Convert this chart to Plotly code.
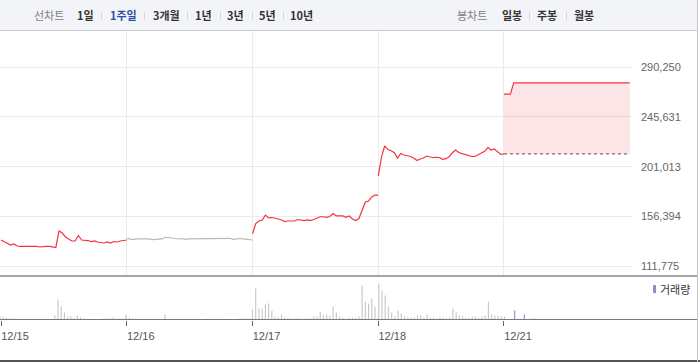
import plotly.graph_objects as go

# ---------------- data ----------------
dates = ["12/15", "12/16", "12/17", "12/18", "12/21"]
minutes = list(range(0, 391, 10))  # 10-minute grid, 09:00 - 15:30

price_1215 = [135500, 134100, 132800, 131000, 131900, 130100, 129700, 129700, 129700, 129700,
              130100, 129700, 129200, 129700, 129700, 129700, 129200, 128800, 143500, 141700,
              138200, 136400, 134600, 134600, 139500, 135500, 135500, 135000, 134100, 134600,
              133700, 133200, 132800, 133700, 132800, 134100, 133700, 134600, 135000, 135500]
price_1216 = [137000, 136400, 135900, 136400, 136400, 136800, 136800, 136400, 135900, 135900,
              135750, 136400, 137900, 137300, 137300, 136800, 136400, 136800, 136000, 136400,
              136400, 136400, 136400, 136400, 136800, 136400, 136400, 136400, 136400, 136400,
              136400, 136400, 137000, 136000, 136400, 136800, 136400, 135900, 135500, 135500]
price_1217 = [140900, 150200, 152500, 153400, 157800, 155200, 155600, 155200, 154300, 153400,
              152000, 152500, 152500, 152500, 153800, 153400, 152900, 153400, 152900, 153800,
              155200, 156300, 156300, 155800, 156500, 159200, 157000, 157000, 157000, 155800,
              157000, 154300, 152900, 154700, 161400, 169500, 170400, 174000, 175700, 175700]
price_1218 = [192700, 209700, 219600, 216400, 215400, 213600, 208800, 212900, 211500, 211100,
              210200, 208800, 206600, 207900, 208800, 210600, 209700, 209100, 209500, 209300,
              207700, 208200, 210000, 213600, 216000, 213800, 212700, 212000, 211300, 210200,
              210200, 211500, 213100, 214800, 218200, 216000, 216900, 214200, 212000, 212500]
price_1221 = [266000, 266000, 266000, 276000, 276000, 276000, 276000, 276000, 276000, 276000,
              276000, 276000, 276000, 276000, 276000, 276000, 276000, 276000, 276000, 276000,
              276000, 276000, 276000, 276000, 276000, 276000, 276000, 276000, 276000, 276000,
              276000, 276000, 276000, 276000, 276000, 276000, 276000, 276000, 276000, 276000]
prev_close = 212500

vol_1215 = [3000, 3000, 2000, 1000, 1000, 1000, 500, 300, 300, 300,
            1000, 300, 300, 300, 300, 300, 300, 4000, 20000, 13000,
            7000, 3000, 3000, 2000, 4000, 2000, 1000, 300, 1000, 300,
            300, 300, 1000, 1000, 1000, 2000, 1000, 1000, 1000, 2000]
vol_1216 = [5000, 2000, 1000, 1000, 300, 300, 300, 300, 300, 300,
            300, 300, 5000, 300, 300, 300, 300, 300, 1000, 300,
            300, 300, 300, 300, 300, 1000, 300, 300, 300, 300,
            300, 1000, 300, 300, 300, 1000, 1000, 1000, 1000, 1000]
vol_1217 = [10000, 31000, 11000, 11000, 15000, 16000, 9000, 3000, 2000, 5000,
            2000, 2000, 1000, 1000, 2000, 1000, 1000, 1000, 1000, 3000,
            3000, 8000, 4000, 5000, 4000, 13000, 7000, 3000, 2000, 1000,
            2000, 2000, 2000, 3000, 34000, 18000, 16000, 21000, 13000, 2000]
vol_1218 = [36000, 29000, 24000, 13000, 7000, 3000, 9000, 6000, 3000, 2000,
            2000, 2000, 4000, 4000, 2000, 5000, 2000, 2000, 1000, 2000,
            2000, 1000, 2000, 11000, 8000, 4000, 3000, 2000, 2000, 3000,
            3000, 2000, 3000, 4000, 18000, 5000, 4000, 4000, 3000, 3000]
vol_1221 = [0, 0, 0, 9000, 0, 0, 5000, 0, 0, 1000]

y_ticks = [111775, 156394, 201013, 245631, 290250]

left_menu = ["선차트", "1일", "1주일", "3개월", "1년", "3년", "5년", "10년"]
right_menu = ["봉차트", "일봉", "주봉", "월봉"]
legend_label = "거래량"

# ---------------- helpers ----------------
W, H = 700, 362


def px(x):
    return x / W


def py(y):
    return 1 - y / H


RED = "#f5333f"
GRAY_LINE = "#b8b8b8"
VOL_GRAY = "#c4c7cb"
VOL_PURPLE = "#9a88c8"
KFONT = "Noto Sans CJK KR, Noto Sans, sans-serif"
NFONT = "Liberation Sans, Arial, sans-serif"

fig = go.Figure()

# price lines
day_series = [price_1215, price_1216, price_1217, price_1218]
day_colors = [RED, GRAY_LINE, RED, RED]
for d, (vals, col) in enumerate(zip(day_series, day_colors)):
    fig.add_trace(go.Scatter(
        x=[d + m / 390 for m in minutes[:len(vals)]], y=vals, mode="lines",
        line=dict(color=col, width=1.2), xaxis="x", yaxis="y", hoverinfo="skip"))

# previous close (dotted) and today's line with fill
fig.add_trace(go.Scatter(
    x=[4, 5], y=[prev_close, prev_close], mode="lines",
    line=dict(color="#555555", width=1, dash="dot"), xaxis="x", yaxis="y", hoverinfo="skip"))
fig.add_trace(go.Scatter(
    x=[4 + m / 390 for m in minutes[:len(price_1221)]], y=price_1221, mode="lines",
    line=dict(color=RED, width=1.2), fill="tonexty", fillcolor="rgba(240,70,85,0.14)",
    xaxis="x", yaxis="y", hoverinfo="skip"))

# volume bars
vol_series = [vol_1215, vol_1216, vol_1217, vol_1218, vol_1221]
vol_colors = [VOL_GRAY, VOL_GRAY, VOL_GRAY, VOL_GRAY, VOL_PURPLE]
for d, (vals, col) in enumerate(zip(vol_series, vol_colors)):
    fig.add_trace(go.Bar(
        x=[d + m / 390 for m in minutes[:len(vals)]], y=vals, width=0.009,
        marker=dict(color=col, line=dict(width=0)), xaxis="x2", yaxis="y2", hoverinfo="skip"))

x_range = [-0.008, 5.018]
plot_right = 632

fig.update_layout(
    width=W, height=H, margin=dict(l=0, r=0, t=0, b=0),
    paper_bgcolor="white", plot_bgcolor="white", showlegend=False, hovermode=False,
    xaxis=dict(domain=[0, plot_right / W], range=x_range, tickvals=[1, 2, 3, 4],
               showticklabels=False, showgrid=True, gridcolor="#ebebeb", gridwidth=1,
               zeroline=False, showline=False, ticks=""),
    yaxis=dict(domain=[py(276), py(31)], range=[103276, 322453], side="right",
               tickvals=y_ticks, tickformat=",", showgrid=True, gridcolor="#ebebeb",
               gridwidth=1, zeroline=False, showline=False, ticks="",
               tickfont=dict(family=NFONT, size=11, color="#666666"), ticklabelstandoff=8),
    xaxis2=dict(domain=[0, plot_right / W], range=x_range, anchor="y2",
                tickvals=[0, 1, 2, 3, 4], ticktext=dates, ticks="outside", ticklen=5,
                tickcolor="#666666", tickwidth=1, showgrid=False, zeroline=False,
                showline=False, tickfont=dict(family=NFONT, size=11, color="#555555"),
                ticklabelshift=14, ticklabelstandoff=1),
    yaxis2=dict(domain=[py(319.5), py(276)], range=[0, 43500], showticklabels=False,
                showgrid=False, zeroline=False, ticks=""),
)

shapes = []
# top toolbar
shapes.append(dict(type="rect", xref="paper", yref="paper", x0=px(0), x1=px(697), y0=py(30), y1=py(0),
                   fillcolor="#f3f4f8", line=dict(width=0), layer="below"))
shapes.append(dict(type="line", xref="paper", yref="paper", x0=px(0), x1=px(697), y0=py(30.5), y1=py(30.5),
                   line=dict(color="#c8c9cd", width=1)))
# panel separators
shapes.append(dict(type="line", xref="paper", yref="paper", x0=px(0), x1=px(697), y0=py(276), y1=py(276),
                   line=dict(color="#868a90", width=1.3)))
shapes.append(dict(type="line", xref="paper", yref="paper", x0=px(0), x1=px(697), y0=py(319.5), y1=py(319.5),
                   line=dict(color="#7a7a7a", width=1)))
shapes.append(dict(type="line", xref="paper", yref="paper", x0=px(0), x1=px(700), y0=py(361), y1=py(361),
                   line=dict(color="#555555", width=2)))
# right border
shapes.append(dict(type="line", xref="paper", yref="paper", x0=px(697.5), x1=px(697.5), y0=py(0), y1=py(362),
                   line=dict(color="#c8c8c8", width=1)))
# toolbar separators
for sx in [101, 144, 187, 220, 252, 283, 529, 566]:
    shapes.append(dict(type="line", xref="paper", yref="paper", x0=px(sx + 0.5), x1=px(sx + 0.5),
                       y0=py(11.5), y1=py(20), line=dict(color="#d8d8dc", width=1)))
# legend marker
shapes.append(dict(type="rect", xref="paper", yref="paper", x0=px(653), x1=px(656), y0=py(293), y1=py(285),
                   fillcolor=VOL_PURPLE, line=dict(width=0)))
fig.update_layout(shapes=shapes)

annotations = []
left_x = [48.5, 85.5, 123.5, 166, 203.5, 235.5, 267.5, 301.5]
for i, (txt, ax) in enumerate(zip(left_menu, left_x)):
    if i == 0:
        t, col = txt, "#808080"
    elif txt == "1주일":
        t, col = "<b>" + txt + "</b>", "#2f4da8"
    else:
        t, col = "<b>" + txt + "</b>", "#333333"
    annotations.append(dict(x=px(ax), y=py(15), xref="paper", yref="paper", text=t, showarrow=False,
                            xanchor="center", yanchor="middle", font=dict(family=KFONT, size=11, color=col)))
right_x = [471.5, 511.5, 547, 584]
for i, (txt, ax) in enumerate(zip(right_menu, right_x)):
    t, col = (txt, "#808080") if i == 0 else ("<b>" + txt + "</b>", "#333333")
    annotations.append(dict(x=px(ax), y=py(15), xref="paper", yref="paper", text=t, showarrow=False,
                            xanchor="center", yanchor="middle", font=dict(family=KFONT, size=11, color=col)))
annotations.append(dict(x=px(658), y=py(289), xref="paper", yref="paper", text=legend_label, showarrow=False,
                        xanchor="left", yanchor="middle", font=dict(family=KFONT, size=11, color="#333333")))
fig.update_layout(annotations=annotations)

fig.write_html("out.html", config={"displayModeBar": False, "staticPlot": True},
               post_script="document.body.style.margin='0px';document.body.style.overflow='hidden';")
